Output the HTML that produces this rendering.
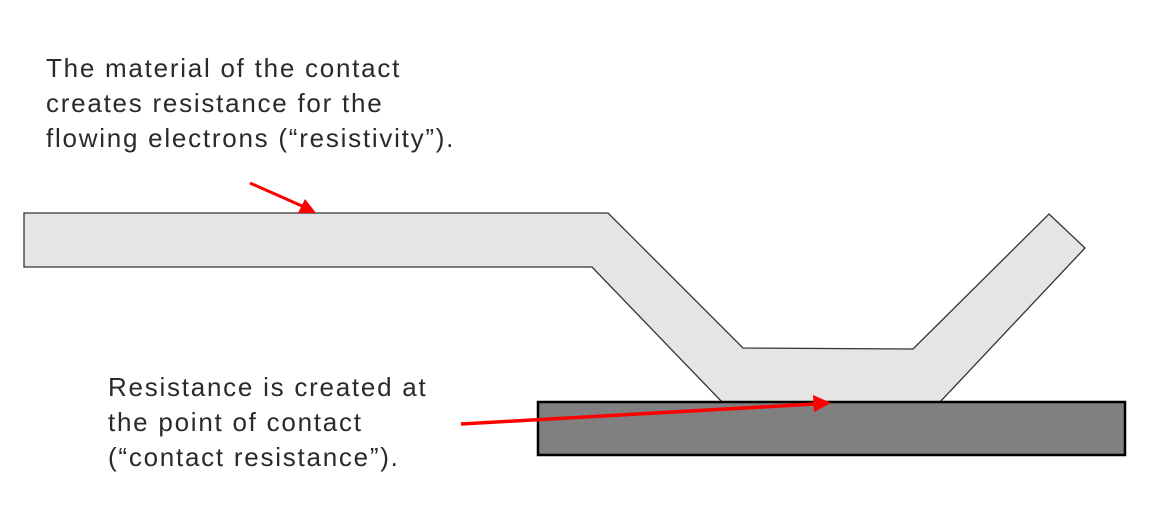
<!DOCTYPE html>
<html><head><style>
body{margin:0;width:1156px;height:524px;background:#fff;overflow:hidden;position:relative;font-family:"Liberation Sans",sans-serif;}
.t{position:absolute;font-size:26px;line-height:35px;color:#2a2a2a;white-space:nowrap;letter-spacing:1.75px;}
svg{position:absolute;left:0;top:0;}
</style></head><body>
<svg width="1156" height="524">
<polygon points="24,213 608,213 743,348 913,349 1049,214 1085,248 940,402 722,402 592,267 24,267" fill="#e6e5e6" stroke="#333" stroke-width="1.3"/>
<rect x="538" y="402" width="587" height="53" fill="#808080" stroke="#000" stroke-width="2.5"/>
<line x1="250" y1="183" x2="302" y2="206" stroke="#f00" stroke-width="3"/>
<polygon points="316,213 298,213 305,199" fill="#f00"/>
<line x1="461" y1="424" x2="815" y2="404" stroke="#f00" stroke-width="3.5"/>
<polygon points="831,403 813,395 814,412" fill="#f00"/>
</svg>
<div class="t" style="left:46px;top:51px">The material of the contact<br>creates resistance for the<br>flowing electrons (“resistivity”).</div>
<div class="t" style="left:108px;top:370px">Resistance is created at<br>the point of contact<br>(“contact resistance”).</div>
</body></html>
